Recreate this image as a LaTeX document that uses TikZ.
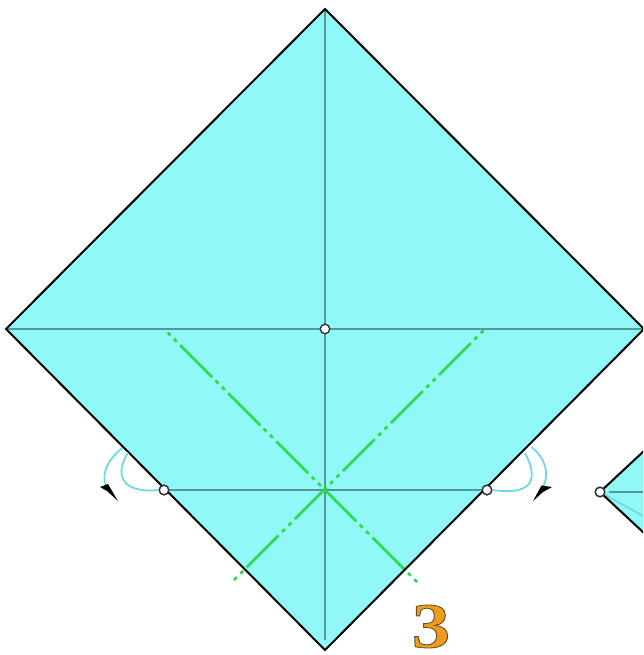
\documentclass[tikz,border=0pt]{standalone}
\usepackage{fontspec}
\setmainfont{Liberation Serif}
\definecolor{paper}{HTML}{90F9F7}
\definecolor{crease}{HTML}{55979A}
\definecolor{fold}{HTML}{2DD84F}
\definecolor{curl}{HTML}{6FD9E4}
\definecolor{numfill}{HTML}{EE9C1E}
\tikzset{
  edge/.style={draw=black,line width=2pt,line join=miter},
  creaseline/.style={draw=crease,line width=1.2pt},
  foldline/.style={draw=fold,line width=2.8pt,dash pattern=on 45pt off 5pt on 4pt off 5pt on 4pt off 5pt,dash phase=50pt},
  curlline/.style={draw=curl,line width=1.8pt},
  pivot/.style={circle,draw=black!80,fill=white,line width=1.4pt,inner sep=0pt,minimum size=9.5pt},
  tip/.style={fill=black,draw=none}
}
\begin{document}
\begin{tikzpicture}[x=1pt,y=-1pt]
\clip (0,0) rectangle (643,655);
% main square
\coordinate (T) at (325,9);
\coordinate (L) at (6,329);
\coordinate (R) at (644,329);
\coordinate (B) at (325,650);
\coordinate (Tc) at (325,10);
\coordinate (Bc) at (325,640);
\coordinate (F1a) at (167.5,332.5);
\coordinate (F1b) at (418,583);
\coordinate (F2a) at (234,580);
\coordinate (F2b) at (484.5,329.5);
\fill[paper] (T) -- (R) -- (B) -- (L) -- cycle;
\draw[creaseline] (L) -- (R);
\draw[creaseline] (Tc) -- (Bc);
% next square, partly visible
\node[pivot] (N) at (600,492) {};
\coordinate (Nu) at (645,450);
\coordinate (Nd) at (645,534);
\coordinate (Nh) at (645,492);
\coordinate (Nc) at (645,517);
\fill[paper] (N.center) -- (Nu) -- (Nd) -- cycle;
\draw[curlline] (N.center) -- (Nc);
\draw[creaseline] (609,492) -- (Nh);
\draw[edge] (Nu) -- (N.center) -- (Nd);
\node[pivot] at (N) {};
% folds
\node[pivot] (PL) at (164,490) {};
\node[pivot] (PR) at (487,490) {};
\draw[creaseline] (PL) -- (PR);
\draw[foldline] (F1a) -- (F1b);
\draw[foldline] (F2a) -- (F2b);
\draw[edge] (T) -- (R) -- (B) -- (L) -- cycle;
\node[pivot] (C) at (325,329) {};
\node[pivot] at (PL) {};
\node[pivot] at (PR) {};
% left curl
\coordinate (LA) at (128,452.5);
\coordinate (LB) at (122,448);
\coordinate (LC) at (106,486);
\draw[curlline] (PL.west) .. controls (132,493) and (110,483) .. (LA);
\draw[curlline] (LB) .. controls (108,460) and (101,473) .. (LC);
\fill[tip] (100,487) -- (108,484) -- (118,501) -- (107,491) -- cycle;
% right curl
\coordinate (RA) at (525,453);
\coordinate (RB) at (531.5,447);
\coordinate (RC) at (543,487);
\draw[curlline] (PR.east) .. controls (520,494) and (544,489) .. (RA);
\draw[curlline] (RB) .. controls (545,458) and (550,473) .. (RC);
\fill[tip] (552,487) -- (541.5,485.5) -- (533,501) -- (543,492) -- cycle;
% number
\node[inner sep=0pt,text=numfill,xscale=1.2] (N3) at (431,626.5) {\fontsize{64pt}{64pt}\selectfont\bfseries\special{pdf:code q 2 Tr 0.8 w 0.40 0.30 0.12 RG}3\special{pdf:code 0 Tr Q}};
\end{tikzpicture}
\end{document}
